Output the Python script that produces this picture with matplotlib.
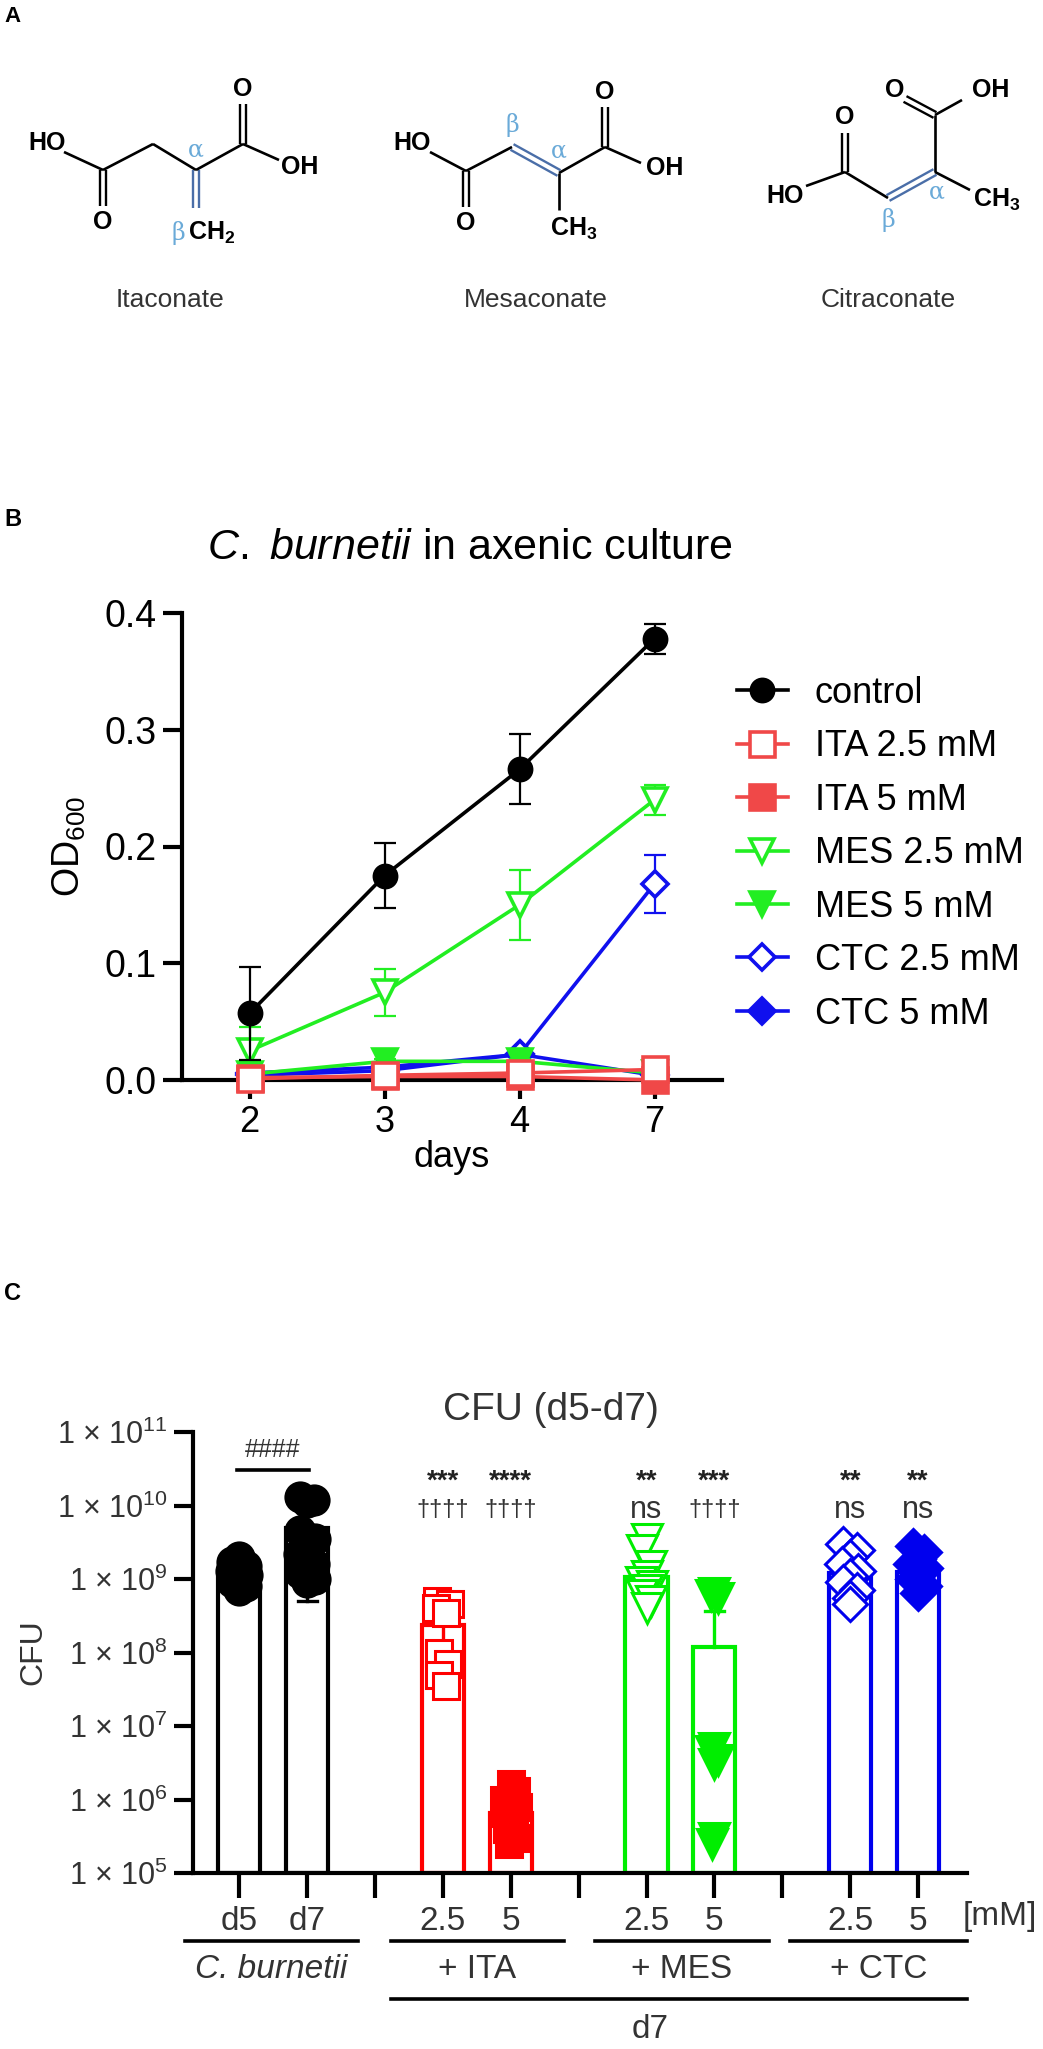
import matplotlib
matplotlib.use('Agg')
import matplotlib.pyplot as plt
import numpy as np
from matplotlib.lines import Line2D
import matplotlib.transforms as mtrans

plt.rcParams['font.family'] = ['Liberation Sans', 'DejaVu Sans']
plt.rcParams['mathtext.fontset'] = 'custom'
plt.rcParams['mathtext.rm'] = 'Liberation Sans'
plt.rcParams['mathtext.it'] = 'Liberation Sans:italic'
plt.rcParams['mathtext.bf'] = 'Liberation Sans:bold'
plt.rcParams['mathtext.default'] = 'regular'

# ---------------- data: panel B ----------------
days = ['2', '3', '4', '7']
series_names = ['control', 'ITA 2.5 mM', 'ITA 5 mM', 'MES 2.5 mM',
                'MES 5 mM', 'CTC 2.5 mM', 'CTC 5 mM']
od_control = [0.057, 0.175, 0.266, 0.378]
sd_control = [0.040, 0.028, 0.030, 0.013]
od_ita25 = [0.001, 0.004, 0.006, 0.009]
sd_ita25 = [0.002, 0.002, 0.002, 0.002]
od_ita5 = [0.002, 0.003, 0.003, 0.000]
sd_ita5 = [0.001, 0.001, 0.001, 0.001]
od_mes25 = [0.025, 0.075, 0.150, 0.240]
sd_mes25 = [0.020, 0.020, 0.030, 0.013]
od_mes5 = [0.005, 0.016, 0.016, 0.006]
sd_mes5 = [0.002, 0.002, 0.002, 0.002]
od_ctc25 = [0.004, 0.008, 0.022, 0.168]
sd_ctc25 = [0.002, 0.002, 0.003, 0.025]
od_ctc5 = [0.006, 0.011, 0.022, 0.004]
sd_ctc5 = [0.002, 0.002, 0.002, 0.002]

# ---------------- data: panel C ----------------
cfu_tick_labels = ['d5', 'd7', '', '2.5', '5', '', '2.5', '5', '', '2.5', '5']
cfu_bar_slots = [0, 1, 3, 4, 6, 7, 9, 10]
cfu_mean = [1.15e9, 4.9e9, 2.4e8, 6.5e5, 1.05e9, 1.2e8, 1.2e9, 1.25e9]
cfu_sd = [3.0e8, 4.4e9, 1.9e8, 4.0e5, 5.0e8, 2.5e8, 6.0e8, 5.5e8]
cfu_d5 = [2.0e9, 1.7e9, 1.5e9, 1.3e9, 1.15e9, 1.0e9, 0.9e9, 0.8e9, 0.7e9]
cfu_d7 = [1.3e10, 1.2e10, 1.1e10, 4.5e9, 3.5e9, 2.8e9, 2.2e9, 1.6e9, 1.2e9, 1.0e9, 0.9e9]
cfu_ita25 = [5.0e8, 4.5e8, 4.0e8, 3.5e8, 1.0e8, 7.0e7, 5.0e7, 3.5e7]
cfu_ita5 = [1.6e6, 1.3e6, 1.0e6, 8.0e5, 6.5e5, 5.0e5, 4.0e5, 3.0e5, 2.5e5]
cfu_mes25 = [3.5e9, 2.5e9, 1.5e9, 1.1e9, 9.0e8, 8.0e8, 7.0e8, 6.0e8, 5.0e8, 4.0e8]
cfu_mes5 = [6.5e8, 6.0e8, 5.5e8, 5.0e6, 4.5e6, 3.5e6, 3.0e6, 3.0e5, 2.5e5]
cfu_ctc25 = [3.0e9, 2.5e9, 2.0e9, 1.6e9, 1.3e9, 1.1e9, 9.0e8, 7.0e8, 5.5e8, 4.5e8]
cfu_ctc5 = [2.8e9, 2.3e9, 1.9e9, 1.6e9, 1.4e9, 1.2e9, 1.0e9, 8.0e8, 6.5e8]
jit_d5 = [0, -0.1, 0.1, -0.12, 0.12, 0, -0.1, 0.1, 0]
jit_d7 = [-0.1, 0.1, 0, -0.1, 0.12, 0, -0.12, 0.1, -0.1, 0.12, 0]
jit_ita25 = [-0.08, 0.1, -0.1, 0.05, -0.05, 0.08, -0.06, 0.04]
jit_ita5 = [0, 0.08, -0.1, 0.1, -0.08, 0.05, -0.05, 0.1, -0.02]
jit_mes25 = [0, -0.06, 0.06, 0, -0.08, 0.08, 0, -0.06, 0.06, 0]
jit_mes5 = [0, -0.05, 0.05, 0, -0.05, 0.05, 0, 0, -0.04]
jit_ctc25 = [-0.1, 0.1, 0, -0.12, 0.12, 0, -0.1, 0.1, 0, 0]
jit_ctc5 = [-0.08, 0.08, 0, -0.1, 0.1, 0, -0.08, 0.08, 0]
sig_star = ['', '', '***', '****', '**', '***', '**', '**']
sig_dag = ['', '', '††††', '††††', 'ns', '††††', 'ns', 'ns']

W, H = 1043, 2049
fig = plt.figure(figsize=(W / 100, H / 100), dpi=100)


def fx(px):
    return px / W


def fy(py):
    return 1 - py / H


# ---------------- panel A: structures ----------------
axA = fig.add_axes([0, 1 - 330 / H, 1, 330 / H])
axA.set_xlim(0, W)
axA.set_ylim(330, 0)
axA.axis('off')
BL = '#4a6ea8'
LB = '#6aaad8'


def bond(p, q, color='black', lw=1.9):
    axA.plot([p[0], q[0]], [p[1], q[1]], color=color, lw=lw, solid_capstyle='butt')


def dbond(p, q, color='black', off=3.2, lw=1.7):
    p = np.array(p, float)
    q = np.array(q, float)
    d = q - p
    n = np.array([-d[1], d[0]]) / np.hypot(*d) * off
    bond(p + n, q + n, color, lw)
    bond(p - n, q - n, color, lw)


def atom(x, y, s, size=18, color='black', ha='center'):
    axA.text(x, y, s, fontsize=size, fontweight='bold', color=color,
             ha=ha, va='center')


def greek(x, y, s):
    axA.text(x, y, s, fontsize=17, color=LB, ha='center', va='center',
             family=['DejaVu Serif'])


# Itaconate
atom(47, 143, 'HO')
bond((64, 152), (103, 170))
dbond((103, 170), (103, 206))
atom(103, 222, 'O')
bond((103, 170), (153, 144))
bond((153, 144), (196, 170))
dbond((196, 170), (196, 208), color=BL)
greek(196, 150, 'α')
greek(178, 233, 'β')
atom(188, 233, r'$\mathbf{CH}_\mathbf{2}$', ha='left')
bond((196, 170), (243, 144))
dbond((243, 144), (243, 104))
atom(243, 89, 'O')
bond((243, 144), (279, 160))
atom(300, 167, 'OH')
axA.text(170, 300, 'Itaconate', fontsize=19, color='#333333', ha='center', va='center')

# Mesaconate
atom(412, 143, 'HO')
bond((430, 152), (466, 171))
dbond((466, 171), (466, 207))
atom(466, 223, 'O')
bond((466, 171), (512, 147))
dbond((512, 147), (559, 173), color=BL)
greek(512, 125, 'β')
greek(559, 151, 'α')
bond((559, 173), (559, 210))
atom(550, 229, r'$\mathbf{CH}_\mathbf{3}$', ha='left')
bond((559, 173), (605, 147))
dbond((605, 147), (605, 107))
atom(605, 92, 'O')
bond((605, 147), (641, 163))
atom(665, 168, 'OH')
axA.text(536, 300, 'Mesaconate', fontsize=19, color='#333333', ha='center', va='center')

# Citraconate
atom(845, 117, 'O')
dbond((845, 172), (845, 133))
atom(785, 196, 'HO')
bond((806, 186), (845, 172))
bond((845, 172), (888, 198))
dbond((888, 198), (935, 172), color=BL)
greek(888, 220, 'β')
greek(937, 192, 'α')
bond((935, 172), (970, 190))
atom(973, 200, r'$\mathbf{CH}_\mathbf{3}$', ha='left')
bond((935, 172), (935, 115))
dbond((935, 115), (905, 99))
atom(895, 90, 'O')
bond((935, 115), (962, 100))
atom(991, 90, 'OH')
axA.text(888, 300, 'Citraconate', fontsize=19, color='#333333', ha='center', va='center')

fig.text(fx(4), fy(17), 'A', fontsize=16, fontweight='bold', ha='left', va='center')
fig.text(fx(4), fy(520), 'B', fontsize=17, fontweight='bold', ha='left', va='center')
fig.text(fx(4), fy(1293), 'C', fontsize=17, fontweight='bold', ha='left', va='center')

# ---------------- panel B ----------------
axB = fig.add_axes([fx(182), fy(1080), fx(722) - fx(182), fy(613) - fy(1080)])
xB = np.arange(len(days))
RED_B = '#F04848'
GRN_B = '#22EE22'
BLU_B = '#1010EE'
styles = [
    ('control', od_control, sd_control, 'black', 'o', 'black', 16, 8),
    ('CTC 5 mM', od_ctc5, sd_ctc5, BLU_B, 'D', BLU_B, 13, 2),
    ('CTC 2.5 mM', od_ctc25, sd_ctc25, BLU_B, 'D', 'white', 13, 3),
    ('MES 5 mM', od_mes5, sd_mes5, GRN_B, 'v', GRN_B, 17, 4),
    ('MES 2.5 mM', od_mes25, sd_mes25, GRN_B, 'v', 'white', 17, 5),
    ('ITA 5 mM', od_ita5, sd_ita5, RED_B, 's', RED_B, 18, 6),
    ('ITA 2.5 mM', od_ita25, sd_ita25, RED_B, 's', 'white', 18, 7),
]
handles = {}
for name, vals, sds, col, mk, fc, ms, z in styles:
    axB.errorbar(xB, vals, yerr=sds, fmt='none', ecolor=col, elinewidth=1.6,
                 capsize=8, capthick=1.6, zorder=z, clip_on=False)
    axB.plot(xB, vals, color=col, lw=2.6, marker=mk, ms=ms, mfc=fc, mec=col,
             mew=2.6, zorder=z + 0.5, clip_on=False)
    handles[name] = Line2D([], [], color=col, lw=2.6, marker=mk, ms=ms,
                           mfc=fc, mec=col, mew=2.6)
axB.set_xlim(-0.5, 3.5)
axB.set_ylim(0, 0.4)
axB.set_yticks([0, 0.1, 0.2, 0.3, 0.4])
axB.set_yticklabels(['0.0', '0.1', '0.2', '0.3', '0.4'])
axB.set_xticks(xB)
axB.set_xticklabels(days)
for s in ['top', 'right']:
    axB.spines[s].set_visible(False)
for s in ['left', 'bottom']:
    axB.spines[s].set_linewidth(3)
axB.tick_params(axis='both', width=3, length=14, labelsize=27, pad=4)
axB.tick_params(axis='x', labelsize=26)
axB.set_xlabel('days', fontsize=26, labelpad=0)
axB.set_ylabel('OD$_{600}$', fontsize=27, labelpad=12)
fig.text(fx(470), fy(548), r'$\mathit{C.\ burnetii}$ in axenic culture', fontsize=31,
         ha='center', va='center')
leg = fig.legend([handles[n] for n in series_names], series_names,
                 loc='upper left', bbox_to_anchor=(fx(737), fy(676)),
                 frameon=False, fontsize=26, handlelength=1.4, handletextpad=0.75,
                 labelspacing=0.51, borderpad=0, borderaxespad=0)

# ---------------- panel C ----------------
axC = fig.add_axes([fx(193), fy(1873), fx(967) - fx(193), fy(1432) - fy(1873)])
axC.set_yscale('log')
axC.set_ylim(1e5, 1e11)
axC.set_xlim(-0.68, 10.72)
bar_cols = ['black', 'black', '#FF0000', '#FF0000', '#00EE00', '#00EE00', '#0000EE', '#0000EE']
pts = [cfu_d5, cfu_d7, cfu_ita25, cfu_ita5, cfu_mes25, cfu_mes5, cfu_ctc25, cfu_ctc5]
jits = [jit_d5, jit_d7, jit_ita25, jit_ita5, jit_mes25, jit_mes5, jit_ctc25, jit_ctc5]
mks = ['o', 'o', 's', 's', 'v', 'v', 'D', 'D']
filled = [True, True, False, True, False, True, False, True]
mss = [21, 21, 19, 19, 22, 22, 17, 17]
for i, slot in enumerate(cfu_bar_slots):
    col = bar_cols[i]
    axC.bar(slot, cfu_mean[i] - 1e5, bottom=1e5, width=0.62, facecolor='white',
            edgecolor=col, linewidth=3, zorder=1)
    lo = cfu_mean[i] - cfu_sd[i]
    hi = cfu_mean[i] + cfu_sd[i]
    if lo > 1e5:
        axC.plot([slot, slot], [lo, hi], color=col, lw=2.4, zorder=2)
        axC.plot([slot - 0.14, slot + 0.14], [lo, lo], color=col, lw=2.4, zorder=2)
    else:
        axC.plot([slot, slot], [cfu_mean[i], hi], color=col, lw=2.4, zorder=2)
    axC.plot([slot - 0.14, slot + 0.14], [hi, hi], color=col, lw=2.4, zorder=2)
    xs = slot + np.array(jits[i])
    axC.plot(xs, pts[i], linestyle='none', marker=mks[i], ms=mss[i],
             mfc=col if filled[i] else 'white', mec=col, mew=2.2, zorder=3,
             clip_on=False)
axC.set_yticks([10.0 ** k for k in range(5, 12)])
axC.set_yticklabels(['1 × 10$^{%d}$' % k for k in range(5, 12)])
axC.yaxis.set_minor_locator(matplotlib.ticker.NullLocator())
axC.set_xticks(range(11))
axC.set_xticklabels(cfu_tick_labels)
for s in ['top', 'right']:
    axC.spines[s].set_visible(False)
for s in ['left', 'bottom']:
    axC.spines[s].set_linewidth(3)
axC.tick_params(axis='y', width=3, length=14, labelsize=22, pad=4, labelcolor='#333333')
axC.tick_params(axis='x', width=3, length=18, labelsize=24, pad=6, labelcolor='#333333')
axC.set_ylabel('CFU', fontsize=23, color='#333333', labelpad=6)
fig.text(fx(551), fy(1410), 'CFU (d5-d7)', fontsize=28, color='#333333',
         ha='center', va='center')
tr = mtrans.blended_transform_factory(axC.transData, fig.transFigure)
for i, slot in enumerate(cfu_bar_slots):
    if sig_star[i]:
        axC.text(slot, fy(1482), sig_star[i], transform=tr, fontsize=20,
                 fontweight='bold', ha='center', va='center', color='#222222')
        axC.text(slot, fy(1510), sig_dag[i], transform=tr,
                 fontsize=22 if sig_dag[i] == 'ns' else 17,
                 ha='center', va='center', color='#333333')
axC.text(0.5, fy(1450), '####', transform=tr, fontsize=18, ha='center',
         va='center', color='#333333')
axC.plot([-0.03, 1.03], [fy(1470)] * 2, transform=tr, color='black', lw=2.6,
         clip_on=False)
axC.text(fx(1000), fy(1917), '[mM]', transform=fig.transFigure, fontsize=24,
         ha='center', va='center', color='#333333')
groups = [('C. burnetii', -0.8, 1.75), ('+ ITA', 2.23, 4.78), ('+ MES', 5.24, 7.8),
          ('+ CTC', 8.12, 10.72)]
for lab, a, b in groups:
    axC.plot([a, b], [fy(1941)] * 2, transform=tr, color='black', lw=2.6, clip_on=False)
    axC.text((a + b) / 2, fy(1970), lab, transform=tr, fontsize=24, ha='center',
             va='center', color='#333333',
             style='italic' if lab.startswith('C.') else 'normal')
axC.plot([2.23, 10.72], [fy(1999)] * 2, transform=tr, color='black', lw=2.6, clip_on=False)
axC.text(6.05, fy(2030), 'd7', transform=tr, fontsize=24, ha='center', va='center',
         color='#333333')

fig.savefig('out.png', dpi=100)
